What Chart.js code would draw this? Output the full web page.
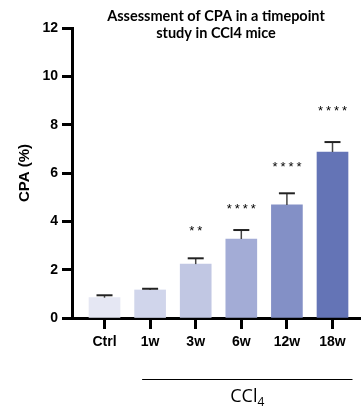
<!DOCTYPE html>
<html>
<head>
<meta charset="utf-8">
<script src="https://cdn.jsdelivr.net/npm/chart.js@4/dist/chart.umd.min.js"></script>
<style>
  html, body { margin: 0; padding: 0; background: #fff; }
  #wrap { width: 362px; height: 410px; }
</style>
</head>
<body>
<div id="wrap"><canvas id="graficoCPA" width="362" height="410"></canvas></div>
<script>
// datos
const categories = ['Ctrl', '1w', '3w', '6w', '12w', '18w'];
const cpaMean = [0.84, 1.16, 2.23, 3.27, 4.68, 6.87];
const cpaSem = [0.10, 0.05, 0.24, 0.37, 0.48, 0.41];
const significance = ['', '', '**', '****', '****', '****'];
const starLevel = [0, 0, 3.77, 4.68, 6.41, 8.73];
const yTicks = [0, 2, 4, 6, 8, 10, 12];
const titleLines = ['Assessment of CPA in a timepoint', 'study in CCl4 mice'];

const barColors = ['#e5e7f3', '#d0d5eb', '#c1c7e3', '#a3acd6', '#8390c6', '#6474b6'];

Chart.defaults.font.family = "'Liberation Sans', Arial, sans-serif";
Chart.defaults.color = '#000';

const extras = {
  id: 'extras',
  afterDatasetsDraw(chart) {
    const ctx = chart.ctx;
    const x = chart.scales.x, y = chart.scales.y;
    ctx.save();
    // barras de error (solo hacia arriba)
    cpaMean.forEach((m, i) => {
      const cx = x.getPixelForValue(i);
      const top = y.getPixelForValue(m + cpaSem[i]);
      const base = y.getPixelForValue(m);
      ctx.strokeStyle = '#444';
      ctx.lineWidth = 1.5;
      ctx.beginPath();
      ctx.moveTo(cx, base);
      ctx.lineTo(cx, top);
      ctx.stroke();
      ctx.strokeStyle = '#222';
      ctx.lineWidth = 2;
      ctx.beginPath();
      ctx.moveTo(cx - 8, top);
      ctx.lineTo(cx + 8, top);
      ctx.stroke();
    });
    ctx.restore();
  },
  afterDraw(chart) {
    const ctx = chart.ctx;
    const x = chart.scales.x, y = chart.scales.y;
    const area = chart.chartArea;
    ctx.save();

    // titulo
    ctx.fillStyle = '#000';
    ctx.textAlign = 'center';
    ctx.textBaseline = 'middle';
    ctx.font = "bold 14.5px Lato, 'Open Sans', sans-serif";
    const midX = (area.left + area.right) / 2;
    ctx.fillText(titleLines[0], midX, 16);
    ctx.fillText(titleLines[1], midX, 33);

    // asteriscos
    ctx.font = "13px 'Liberation Sans', Arial, sans-serif";
    ctx.textBaseline = 'alphabetic';
    significance.forEach((s, i) => {
      if (!s) return;
      const cx = x.getPixelForValue(i);
      const cy = y.getPixelForValue(starLevel[i]);
      const n = s.length;
      for (let k = 0; k < n; k++) {
        ctx.fillText('*', cx + (k - (n - 1) / 2) * 8, cy + 8);
      }
    });

    // linea CCl4
    const x1 = x.getPixelForValue(1) - 8;
    const x2 = x.getPixelForValue(5) + 20;
    ctx.strokeStyle = '#000';
    ctx.lineWidth = 1;
    ctx.beginPath();
    ctx.moveTo(x1, 379.5);
    ctx.lineTo(x2, 379.5);
    ctx.stroke();

    ctx.font = "18px 'Open Sans', sans-serif";
    ctx.textAlign = 'left';
    const main = 'CCl';
    const wMain = ctx.measureText(main).width;
    ctx.font = "12px 'Open Sans', sans-serif";
    const wSub = ctx.measureText('4').width;
    const sx = (x1 + x2) / 2 - (wMain + wSub) / 2;
    ctx.font = "18px 'Open Sans', sans-serif";
    ctx.fillText(main, sx, 402);
    ctx.font = "12px 'Open Sans', sans-serif";
    ctx.fillText('4', sx + wMain, 406);

    ctx.restore();
  }
};

const ctx = document.getElementById('graficoCPA').getContext('2d');
new Chart(ctx, {
  type: 'bar',
  data: {
    datasets: [{
      data: cpaMean.map((v, i) => ({ x: i, y: v })),
      backgroundColor: barColors,
      borderWidth: 0,
      barThickness: 31
    }]
  },
  options: {
    responsive: false,
    animation: false,
    layout: { padding: { top: 28, right: 2, left: 0, bottom: 0 } },
    plugins: {
      legend: { display: false },
      title: { display: false },
      tooltip: { enabled: false }
    },
    scales: {
      x: {
        type: 'linear',
        offset: false,
        min: -0.713,
        max: 5.603,
        afterBuildTicks: (scale) => { scale.ticks = categories.map((c, i) => ({ value: i })); },
        afterFit: (scale) => { scale.height = 92; },
        ticks: {
          callback: (v) => categories[v],
          font: { size: 14, weight: 'bold' },
          padding: 5,
          autoSkip: false,
          maxRotation: 0
        },
        grid: { offset: false, drawOnChartArea: false, tickLength: 11, tickWidth: 3, tickColor: '#000' },
        border: { width: 3, color: '#000' }
      },
      y: {
        min: 0,
        max: 12,
        afterBuildTicks: (scale) => { scale.ticks = yTicks.map(v => ({ value: v })); },
        afterFit: (scale) => { scale.width = 72; },
        ticks: {
          font: { size: 14, weight: 'bold' },
          padding: 4
        },
        grid: { drawOnChartArea: false, tickLength: 10, tickWidth: 3, tickColor: '#000' },
        border: { width: 3, color: '#000' },
        title: {
          display: true,
          text: 'CPA (%)',
          font: { size: 15, weight: 'bold' },
          padding: { top: 16, bottom: 0 }
        }
      }
    }
  },
  plugins: [extras]
});
</script>
</body>
</html>
